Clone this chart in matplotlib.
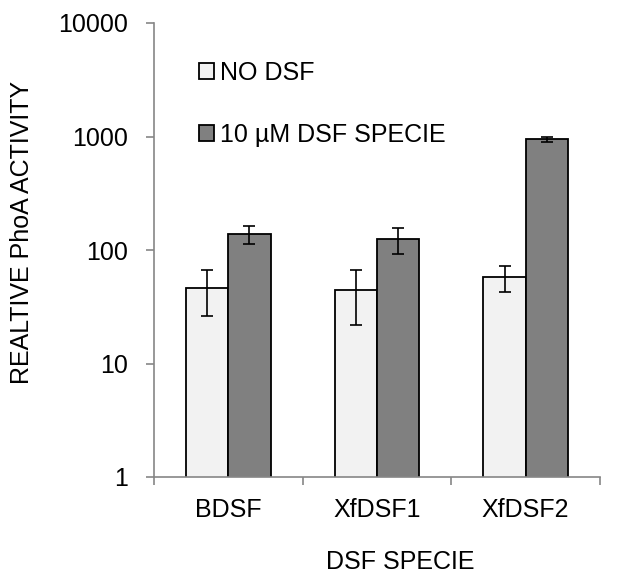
import matplotlib
matplotlib.use("Agg")
import matplotlib.pyplot as plt
import numpy as np
from matplotlib.ticker import FixedLocator, NullLocator, FixedFormatter

plt.rcParams["font.family"] = ["Liberation Sans", "DejaVu Sans"]

especies = ["BDSF", "XfDSF1", "XfDSF2"]
sin_dsf = [46, 44, 57.5]
sin_dsf_err = [20, 22, 14.5]
con_dsf = [138, 125, 951]
con_dsf_err = [25, 32, 48]
etiquetas = ["NO DSF", "10 \u00b5M DSF SPECIE"]
yticks = [1, 10, 100, 1000, 10000]

W, H = 621, 576
FS = 18
fig = plt.figure(figsize=(W / 100, H / 100), dpi=100)
ax = fig.add_axes([154 / W, 1 - 477 / H, (600 - 154) / W, (477 - 23) / H])

x = np.arange(len(especies))
ancho = 0.284
err_kw = dict(ecolor="black", elinewidth=1.2, capsize=4, capthick=1.2)
b1 = ax.bar(x - ancho / 2, sin_dsf, ancho, yerr=sin_dsf_err, color="#f2f2f2",
            edgecolor="black", linewidth=1.3, error_kw=err_kw, label=etiquetas[0])
b2 = ax.bar(x + ancho / 2, con_dsf, ancho, yerr=con_dsf_err, color="#808080",
            edgecolor="black", linewidth=1.3, error_kw=err_kw, label=etiquetas[1])

ax.set_yscale("log")
ax.set_ylim(1, 10000)
ax.yaxis.set_major_locator(FixedLocator(yticks))
ax.yaxis.set_major_formatter(FixedFormatter([str(v) for v in yticks]))
ax.yaxis.set_minor_locator(NullLocator())
ax.set_xlim(-0.5, 2.335)
ax.set_xticks(x)
ax.set_xticklabels(especies)
ax.set_xticks([-0.5, 0.5, 1.5, 2.5], minor=True)
ax.tick_params(axis="x", which="major", length=0, pad=15, labelsize=FS)
ax.tick_params(axis="x", which="minor", length=6, color="#868686", width=1.2)
ax.tick_params(axis="y", length=6, color="#868686", width=1.2, labelsize=FS, pad=13)

for lado in ["top", "right"]:
    ax.spines[lado].set_visible(False)
for lado in ["left", "bottom"]:
    ax.spines[lado].set_color("#868686")
    ax.spines[lado].set_linewidth(1.2)

fig.text(400 / W, 1 - 562 / H, "DSF SPECIE", ha="center", va="center", fontsize=FS)
fig.text(22 / W, 1 - 232 / H, "REALTIVE PhoA ACTIVITY", rotation=90,
         ha="center", va="center", fontsize=FS)

leg = ax.legend(handles=[b1, b2], loc="upper left", bbox_to_anchor=(0.073, 0.944),
                frameon=False, fontsize=FS, labelspacing=1.52, handlelength=0.6,
                handleheight=0.6, handletextpad=0.25, borderpad=0)

fig.savefig("out.png", dpi=100)
